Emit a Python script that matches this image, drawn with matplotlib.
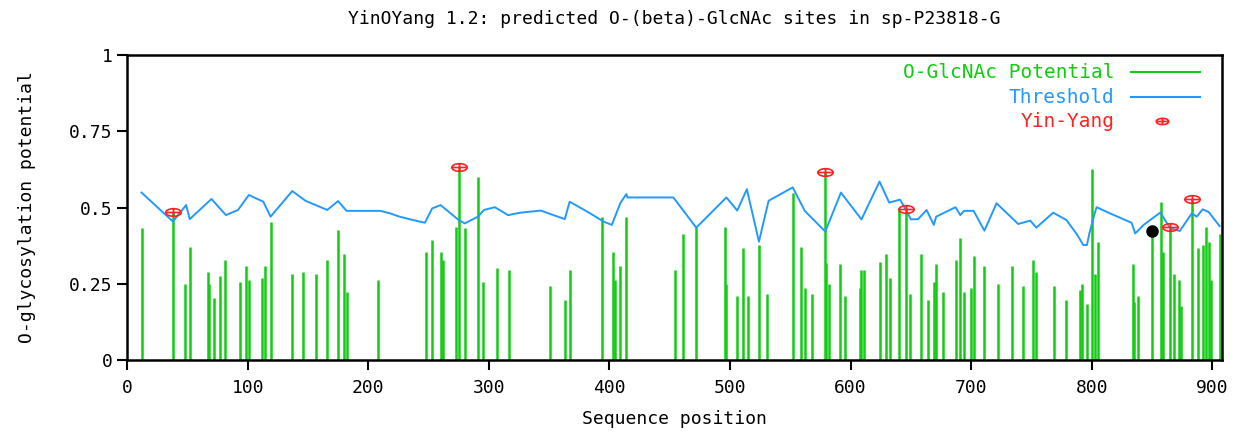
import numpy as np
import matplotlib
matplotlib.use("Agg")
import matplotlib.pyplot as plt
from matplotlib.path import Path

# O-GlcNAc potential per residue (only residues with a visible bar)
site_pos = [12, 38, 48, 52, 67, 68, 72, 77, 81, 94, 99, 101, 112, 114, 119,
            137, 146, 157, 166, 175, 180, 182, 208, 248, 253, 260, 262, 273,
            275, 280, 291, 295, 307, 317, 351, 363, 367, 394, 403, 405, 409,
            414, 454, 461, 472, 496, 497, 506, 511, 515, 524, 531, 552, 559,
            562, 568, 579, 580, 582, 591, 595, 608, 609, 611, 624, 629, 633,
            640, 646, 649, 658, 664, 669, 671, 677, 687, 691, 694, 700, 702,
            711, 722, 734, 743, 751, 754, 769, 779, 790, 792, 796, 800, 803,
            805, 834, 835, 838, 850, 857, 859, 865, 868, 872, 874, 883, 888,
            892, 895, 897, 899, 906]
site_val = [0.432, 0.486, 0.249, 0.372, 0.287, 0.249, 0.203, 0.275, 0.328,
            0.256, 0.308, 0.262, 0.269, 0.308, 0.451, 0.282, 0.287, 0.282,
            0.328, 0.425, 0.346, 0.223, 0.262, 0.353, 0.393, 0.353, 0.328,
            0.437, 0.634, 0.432, 0.601, 0.256, 0.302, 0.295, 0.243, 0.197,
            0.295, 0.470, 0.353, 0.262, 0.308, 0.470, 0.295, 0.412, 0.435,
            0.437, 0.249, 0.211, 0.366, 0.211, 0.378, 0.216, 0.549, 0.372,
            0.236, 0.216, 0.617, 0.319, 0.249, 0.314, 0.211, 0.236, 0.295,
            0.295, 0.320, 0.346, 0.270, 0.499, 0.490, 0.216, 0.346, 0.197,
            0.256, 0.314, 0.223, 0.327, 0.399, 0.223, 0.236, 0.340, 0.307,
            0.249, 0.307, 0.243, 0.327, 0.287, 0.243, 0.197, 0.230, 0.249,
            0.184, 0.626, 0.282, 0.386, 0.314, 0.191, 0.210, 0.440, 0.517,
            0.353, 0.435, 0.282, 0.262, 0.178, 0.527, 0.366, 0.378, 0.437,
            0.386, 0.262, 0.412]

# threshold curve
thr_pos = [12, 38, 49, 52, 70, 82, 92, 101, 113, 119, 137, 148, 166, 175, 182,
           210, 218, 226, 237, 247, 253, 260, 275, 280, 291, 296, 305, 316,
           326, 343, 363, 367, 384, 395, 402, 409, 414, 415, 453, 472, 497,
           506, 514, 524, 532, 552, 562, 579, 592, 609, 624, 632, 641, 646,
           650, 656, 663, 669, 671, 687, 691, 694, 702, 711, 721, 739, 749,
           754, 768, 779, 788, 793, 796, 798, 802, 804, 815, 833, 836, 843,
           857, 859, 865, 873, 883, 887, 892, 897, 906]
thr_val = [0.549, 0.454, 0.508, 0.462, 0.528, 0.475, 0.492, 0.541, 0.519,
           0.470, 0.554, 0.522, 0.492, 0.521, 0.489, 0.489, 0.481, 0.470,
           0.459, 0.450, 0.497, 0.508, 0.459, 0.448, 0.470, 0.492, 0.501,
           0.475, 0.483, 0.490, 0.462, 0.519, 0.481, 0.454, 0.443, 0.514,
           0.544, 0.533, 0.533, 0.434, 0.533, 0.490, 0.560, 0.388, 0.522,
           0.566, 0.489, 0.421, 0.549, 0.461, 0.585, 0.516, 0.526, 0.492,
           0.461, 0.462, 0.492, 0.443, 0.470, 0.501, 0.475, 0.489, 0.489,
           0.424, 0.514, 0.446, 0.457, 0.434, 0.483, 0.459, 0.410, 0.377,
           0.377, 0.415, 0.475, 0.501, 0.481, 0.450, 0.415, 0.443, 0.484,
           0.470, 0.432, 0.423, 0.481, 0.470, 0.494, 0.485, 0.439]

# yin-yang sites
yy_pos = [38, 275, 579, 646, 865, 883]
yy_val = [0.486, 0.634, 0.617, 0.495, 0.435, 0.527]

# black dot
dot_pos = [850]
dot_val = [0.423]

seq_len = 908
GREEN = "#11cc11"
BLUE = "#2299ff"
RED = "#ff2222"

# flattened ellipse with a cross, like the original yin-yang glyph
t = np.linspace(0, 2 * np.pi, 40)
verts = list(zip(1.0 * np.cos(t), 0.5 * np.sin(t)))
codes = [Path.MOVETO] + [Path.LINETO] * (len(verts) - 1)
verts += [(-1, 0), (1, 0), (0, -0.5), (0, 0.5)]
codes += [Path.MOVETO, Path.LINETO, Path.MOVETO, Path.LINETO]
yy_marker = Path(verts, codes)

plt.rcParams['font.family'] = ['DejaVu Sans Mono', 'DejaVu Sans']

fig = plt.figure(figsize=(12.42, 4.37), dpi=100)
ax = fig.add_axes([0.1023, 0.1762, 0.8816, 0.6979])

ax.vlines(site_pos, 0, site_val, color=GREEN, linewidth=1.8)
ax.plot(thr_pos, thr_val, color=BLUE, linewidth=1.4)
ax.plot(yy_pos, yy_val, linestyle='none', marker=yy_marker, markersize=11,
        markerfacecolor='none', markeredgecolor=RED, markeredgewidth=1.2)
ax.plot(dot_pos, dot_val, 'o', color='black', markersize=8)

ax.set_xlim(0, seq_len)
ax.set_ylim(0, 1)
ax.set_xticks(range(0, 1000, 100))
ax.set_yticks([0, 0.25, 0.5, 0.75, 1])
ax.set_yticklabels(['0', '0.25', '0.5', '0.75', '1'])
ax.tick_params(direction='out', length=7, width=1.5, labelsize=13)
ax.tick_params(axis='x', pad=7)
for s in ax.spines.values():
    s.set_linewidth(1.8)

ax.set_title("YinOYang 1.2: predicted O-(beta)-GlcNAc sites in sp-P23818-G",
             fontsize=13, pad=22)
ax.set_xlabel("Sequence position", fontsize=13, labelpad=9)
ax.set_ylabel("O-glycosylation potential", fontsize=13, labelpad=24)

# legend drawn by hand, text right-aligned in series colours
tx = 0.902
lx0, lx1 = 0.917, 0.980
rows = [(0.943, "O-GlcNAc Potential", GREEN), (0.862, "Threshold", BLUE),
        (0.783, "Yin-Yang", RED)]
for y, label, col in rows:
    ax.text(tx, y, label, color=col, fontsize=14, ha='right', va='center',
            transform=ax.transAxes)
ax.plot([lx0, lx1], [0.943, 0.943], color=GREEN, linewidth=1.5, transform=ax.transAxes)
ax.plot([lx0, lx1], [0.862, 0.862], color=BLUE, linewidth=1.5, transform=ax.transAxes)
ax.plot([0.945], [0.783], marker=yy_marker, markersize=9, markerfacecolor='none',
        markeredgecolor=RED, markeredgewidth=1.2, transform=ax.transAxes)

fig.savefig("out.png", dpi=100)
